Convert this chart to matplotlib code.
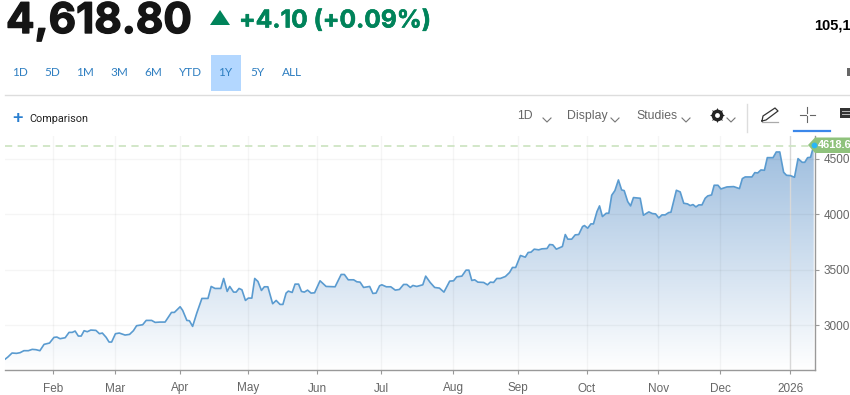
import numpy as np
import matplotlib
matplotlib.use('Agg')
import matplotlib.pyplot as plt
import matplotlib.patheffects as pe
from matplotlib.colors import LinearSegmentedColormap
from matplotlib.patches import Polygon, Rectangle

# session number (trading days from the start of the window) and index level
session = [0.1, 0.9, 2.2, 3.6, 4.7, 5.9, 7.3, 8.5, 9.7, 10.9, 12.2, 13.9, 15.3, 16.2, 17.2, 18.8, 20.0, 21.0, 21.9, 22.9,
           23.8, 24.7, 25.7, 26.8, 28.4, 29.5, 30.4, 31.6, 32.5, 33.3, 34.5, 35.7, 37.5, 38.9, 40.1, 41.1, 43.0, 44.1, 45.8, 46.9,
           48.4, 50.0, 52.0, 52.9, 54.7, 55.5, 56.8, 57.6, 58.6, 59.9, 61.5, 63.4, 64.4, 65.6, 67.4, 68.3, 69.4, 70.2, 71.4, 72.2,
           73.1, 74.0, 75.1, 76.0, 77.1, 78.0, 79.0, 80.1, 81.0, 82.1, 83.6, 84.7, 85.9,
           86.8, 87.8, 88.5, 89.7, 90.6, 91.7, 92.6, 93.5, 94.5, 95.6, 96.7, 98.4, 100.3, 103.1, 105.0, 106.0, 107.2, 108.9, 109.9, 110.9,
           112.0, 113.9, 114.9, 115.9, 117.0, 117.7, 119.1, 120.5, 121.9, 123.2, 124.5, 125.5, 126.6, 127.4, 128.6, 130.5, 131.4, 132.8, 134.2, 135.7,
           137.1, 138.9, 140.1, 141.1, 142.7, 144.0, 144.9, 145.8, 146.7, 147.7, 149.5, 150.7, 151.6, 152.6, 153.6, 154.7, 156.3, 157.6, 158.5, 159.5,
           161.0, 162.5, 163.4, 164.3, 165.3, 166.7, 167.7, 169.3, 170.1,
           171.1, 172.2, 174.1, 175.0, 175.8, 177.0, 178.1, 179.2, 180.4, 181.0, 182.0, 183.0, 183.8, 184.9, 185.7, 186.6, 187.8, 188.6, 189.5, 190.5,
           191.6, 192.6, 193.4, 194.5, 195.4, 196.3, 198.4, 199.4, 201.1, 202.2, 203.2, 204.2, 205.2, 206.2, 207.3, 208.0, 209.7, 210.9, 212.0, 213.2,
           214.0, 214.9, 215.8, 216.7, 217.7, 218.7, 219.5, 220.7, 221.5, 222.7, 223.6, 225.5, 227.6, 229.4, 230.3, 231.2, 233.3, 234.2, 235.1, 236.1,
           237.2, 238.1, 239.9, 240.9, 242.0, 243.2, 244.1, 245.3, 246.6, 247.7, 249.0, 249.8, 250.7, 251.6, 252.6]
level = [2697, 2715, 2751, 2748, 2754, 2772, 2772, 2784, 2781, 2772, 2829, 2841, 2892, 2895, 2880, 2889, 2937, 2937, 2949, 2904,
         2904, 2952, 2943, 2958, 2955, 2925, 2931, 2892, 2850, 2850, 2925, 2931, 2913, 2919, 2952, 2997, 3006, 3045, 3045, 3027,
         3030, 3030, 3117, 3117, 3168, 3135, 3045, 3042, 2991, 3111, 3243, 3243, 3351, 3333, 3333, 3423, 3306, 3351, 3300, 3300,
         3333, 3321, 3225, 3246, 3246, 3423, 3396, 3315, 3348, 3348, 3195, 3225, 3189,
         3189, 3291, 3309, 3297, 3372, 3372, 3306, 3300, 3318, 3291, 3294, 3402, 3351, 3348, 3459, 3459, 3411, 3411, 3393, 3390,
         3342, 3351, 3288, 3291, 3357, 3366, 3348, 3348, 3318, 3324, 3369, 3369, 3342, 3360, 3351, 3366, 3444, 3387, 3342, 3336,
         3300, 3399, 3402, 3438, 3444, 3498, 3498, 3405, 3411, 3390, 3387, 3366, 3390, 3387, 3423, 3423, 3441, 3477, 3522, 3522,
         3630, 3615, 3657, 3660, 3687, 3681, 3690, 3693, 3729,
         3726, 3687, 3711, 3819, 3777, 3777, 3816, 3819, 3891, 3900, 3876, 3915, 3915, 4026, 4077, 3981, 4011, 4011, 4173, 4215,
         4311, 4221, 4215, 4116, 4077, 4152, 4146, 3993, 4023, 4008, 4005, 3969, 3996, 3996, 4017, 4020, 4218, 4203, 4101, 4095,
         4080, 4089, 4068, 4086, 4086, 4146, 4167, 4176, 4263, 4263, 4230, 4248, 4251, 4233, 4323, 4338, 4338, 4377, 4374, 4401,
         4398, 4512, 4512, 4563, 4563, 4380, 4353, 4350, 4335, 4503, 4470, 4470, 4512, 4515, 4618.6]

month_pos = [15, 34.4, 54.7, 76, 97.5, 117.5, 140, 160.3, 181.8, 204, 223.4, 245.3]
month_labels = ['Feb', 'Mar', 'Apr', 'May', 'Jun', 'Jul', 'Aug', 'Sep', 'Oct', 'Nov', 'Dec', '2026']
y_ticks = [3000, 3500, 4000, 4500]
last_label = '4618.6'
ranges = ['1D', '5D', '1M', '3M', '6M', 'YTD', '1Y', '5Y', 'ALL']
range_x = [20, 52, 85, 119, 153, 191, 225, 257, 292]

W, H = 850, 395
fig = plt.figure(figsize=(W / 100, H / 100), dpi=100)

#chart area in pixels: x 5..815, y 136..370
ax = fig.add_axes([5 / W, 1 - 370 / H, 810 / W, 234 / H])
xmin, xmax, ymin, ymax = 0, 253, 2598, 4707
cmap = LinearSegmentedColormap.from_list('fade', ['#ffffff', '#9abbdd'])
grad = np.linspace(0, 1, 256).reshape(-1, 1)
im = ax.imshow(grad, extent=[xmin, xmax, ymin, ymax], origin='lower', aspect='auto', cmap=cmap, zorder=1)
poly = Polygon(list(zip(session, level)) + [(session[-1], ymin), (session[0], ymin)], closed=True,
               facecolor='none', edgecolor='none', transform=ax.transData)
ax.add_patch(poly)
im.set_clip_path(poly)
ax.plot(session, level, color='#5a9bd0', lw=1.2, zorder=3, solid_joinstyle='round')
ax.set_xlim(xmin, xmax)
ax.set_ylim(ymin, ymax)
ax.set_xticks(month_pos)
ax.set_xticklabels(month_labels)
ax.set_yticks(y_ticks)
ax.yaxis.tick_right()
ax.tick_params(axis='both', colors='#999999', labelcolor='#666666', length=3, width=0.8, pad=3, labelsize=8.5)
for t in ax.get_xticklabels() + ax.get_yticklabels():
    t.set_fontfamily('Liberation Sans')
ax.tick_params(axis='x', pad=6)
ax.set_axisbelow(False)
ax.grid(True, color='#000000', alpha=0.04, lw=1)
ax.get_xgridlines()[-1].set_color('#d8d8d8')
ax.get_xgridlines()[-1].set_alpha(1)
for s in ['top', 'left']:
    ax.spines[s].set_visible(False)
for s in ['bottom', 'right']:
    ax.spines[s].set_color('#999999')
    ax.spines[s].set_linewidth(1)
ax.axhline(level[-1], color='#cfe5c4', lw=1.3, ls=(0, (4, 3)), zorder=2.8)

#page furniture on a pixel overlay
ov = fig.add_axes([0, 0, 1, 1], facecolor='none')
ov.set_xlim(0, W)
ov.set_ylim(H, 0)
ov.axis('off')

head = ov.text(6, 33, '4,618.80', fontsize=30.4, fontweight='bold', family='Inter', color='#151515', va='baseline')
head.set_path_effects([pe.withStroke(linewidth=1.0, foreground='#151515')])
ov.add_patch(Polygon([(210, 25), (230, 25), (220, 10)], color='#00835a', lw=0))
chg = ov.text(239, 27.5, '+4.10 (+0.09%)', fontsize=17.7, fontweight='bold', family='Inter', color='#00835a', va='baseline')
chg.set_path_effects([pe.withStroke(linewidth=0.4, foreground='#00835a')])
ov.text(814, 29, '105,1', fontsize=10.5, fontweight='bold', family='Liberation Sans', color='#000000', va='baseline')

ov.add_patch(Rectangle((211, 55), 30, 36, color='#b3d7ff', lw=0))
for lab, x in zip(ranges, range_x):
    ov.text(x, 73, lab, fontsize=8.5, family='Lato', color='#2f7fc1', ha='center', va='center')
ov.plot([5, 850], [95, 95], color='#dddddd', lw=1)
ov.add_patch(Rectangle((847, 68), 3, 8, color='#666666', lw=0))

ov.text(18, 118.5, '+', fontsize=13, fontweight='bold', family='Liberation Sans', color='#2a7fd0', ha='center', va='center')
ov.text(29, 119, 'Comparison', fontsize=7.8, family='Roboto', color='#222222', va='center')
ov.text(517, 116, '1D', fontsize=8.8, family='Liberation Sans', color='#666666', va='center')
ov.text(567, 116, 'Display', fontsize=8.8, family='Liberation Sans', color='#666666', va='center')
ov.text(636, 116, 'Studies', fontsize=8.8, family='Liberation Sans', color='#666666', va='center')
for cx in [547, 615, 686, 731]:
    ov.plot([cx - 4, cx, cx + 4], [118, 122, 118], color='#777777', lw=0.8)
#gear icon
ov.plot([717.5], [115], marker=(8, 1, 0), color='#222222', ms=11, mec='none')
ov.plot([717.5], [115], 'o', color='#222222', ms=8.5, mec='none')
ov.plot([717.5], [115], 'o', color='#ffffff', ms=3.5, mec='none')
ov.plot([747.5, 747.5], [104, 132], color='#dddddd', lw=1)
ov.plot([762, 763, 775, 778, 766, 762], [121, 116, 108, 111, 120, 121], color='#333333', lw=0.9)
ov.plot([762, 778], [122, 122], color='#aaaaaa', lw=0.9)
ov.plot([800, 806], [114.5, 114.5], color='#666666', lw=0.8)
ov.plot([810, 815.5], [114.5, 114.5], color='#666666', lw=0.8)
ov.plot([807.5, 807.5], [107, 113], color='#666666', lw=0.8)
ov.plot([807.5, 807.5], [116, 122], color='#666666', lw=0.8)
ov.plot([794, 830], [130.5, 130.5], color='#3b87ea', lw=1.6)
ov.add_patch(Rectangle((840, 108), 10, 10, color='#333333', lw=0))
ov.plot([842, 850], [111, 111], color='#bbbbbb', lw=0.7)
ov.plot([842, 850], [114, 114], color='#bbbbbb', lw=0.7)

#last price tag
ov.add_patch(Polygon([(808, 145), (815, 137.5), (850, 137.5), (850, 153), (815, 153)], color='#8fc27c', lw=0))
ov.plot([814], [145], 'o', color='#29b6f6', ms=4.2, mec='none')
ov.text(818, 145.3, last_label, fontsize=7.9, fontweight='bold', family='Liberation Sans', color='#ffffff', va='center')

plt.savefig('out.png', dpi=100)
